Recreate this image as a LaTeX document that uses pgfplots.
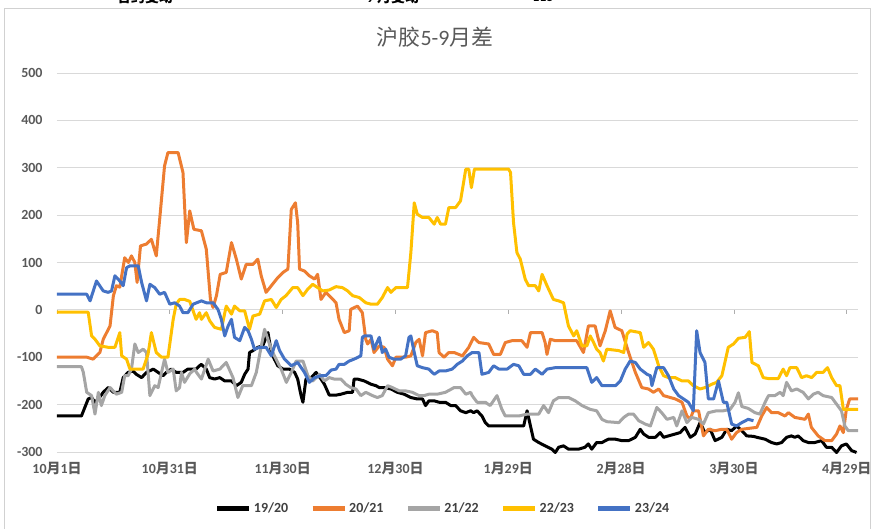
\documentclass[border=0pt]{standalone}
\usepackage{pgfplots}
\pgfplotsset{compat=1.18}
\usepackage{fontspec}
\setmainfont{Carlito}
\newfontfamily\cjk{Noto Sans CJK SC}
\definecolor{sBlack}{HTML}{000000}
\definecolor{sOrange}{HTML}{ED7D31}
\definecolor{sGray}{HTML}{A5A5A5}
\definecolor{sYellow}{HTML}{FFC000}
\definecolor{sBlue}{HTML}{4472C4}
\definecolor{tickgray}{HTML}{595959}
\definecolor{leggray}{HTML}{404040}
\definecolor{gridgray}{HTML}{D9D9D9}
\newcommand\md[2]{#1{\cjk 月}#2{\cjk 日}}
\begin{document}
\begin{tikzpicture}
\useasboundingbox (-57bp,-77bp) rectangle (816bp,452bp);
\draw[black!18, line width=0.8bp] (-53bp,-90bp) -- (-53bp,444bp) -- (813bp,444bp) -- (813bp,-90bp);
\begin{scope}
\clip (-57bp,430bp) rectangle (816bp,452bp);
\node[font=\bfseries\fontsize{14}{16}\selectfont] at (88bp,455bp) {\cjk 合约变动};
\node[font=\bfseries\fontsize{14}{16}\selectfont] at (336bp,455bp) {9 {\cjk 月变动}};
\node[font=\bfseries\fontsize{14}{16}\selectfont] at (486bp,455bp) {115};
\end{scope}
\node[text=tickgray, font=\fontsize{22}{26}\selectfont] at (378bp,415bp) {{\cjk 沪胶}5-9{\cjk 月差}};
\begin{axis}[
  at={(0bp,0bp)}, anchor=south west,
  scale only axis, width=801bp, height=379bp,
  xmin=0, xmax=213, ymin=-300, ymax=500,
  axis line style={draw=none},
  major tick length=0pt,
  ytick={-300,-200,-100,0,100,200,300,400,500},
  yticklabels={-300,-200,-100,0,100,200,300,400,500},
  xtick={0,30,60,90,120,150,180,210},
  xticklabels={\md{10}{1},\md{10}{31},\md{11}{30},\md{12}{30},\md{1}{29},\md{2}{28},\md{3}{30},\md{4}{29}},
  ymajorgrids, grid style={gridgray, line width=0.9bp},
  yticklabel style={font=\bfseries\fontsize{14}{16}\selectfont, text=tickgray, xshift=-11bp},
  xticklabel style={font=\bfseries\fontsize{14}{16}\selectfont, text=tickgray, yshift=-7bp},
  clip=false,
  legend columns=5,
  legend style={at={(rel axis cs:0.482,-0.148)}, anchor=center, draw=none, fill=none,
    font=\bfseries\fontsize{14}{16}\selectfont, text=leggray,
    /tikz/every even column/.append style={column sep=20bp}},
  legend image code/.code={\draw[#1, line width=5bp] (0bp,0bp) -- (32bp,0bp);},
  every axis plot/.append style={line width=3bp, line join=round, no markers},
]
\draw[gridgray, line width=0.9bp] (axis cs:0,0) -- (axis cs:213,0);
\pgfplotsinvokeforeach{0,30,60,90,120,150,180,210}{\draw[gridgray!80!black, line width=0.8bp] (axis cs:#1,0) -- ++(0bp,-4bp);}
\addplot[sBlack] coordinates {(0,-224)(6.5,-224)(7.4,-206)(8.3,-188)(9.2,-185)(10.1,-195)(11,-188)(12.3,-174)(13.6,-164)(15,-174)(16.7,-174)(17.6,-143)(18.9,-132)(20.2,-129)(21.1,-136)(22.5,-143)(23.8,-132)(25.6,-125)(26.9,-132)(28.2,-139)(29.1,-132)(30.4,-125)(31.7,-132)(33.5,-132)(34.8,-125)(37,-125)(37.9,-118)(38.4,-115)(39.7,-125)(40.6,-143)(41.9,-146)(43.3,-143)(44.6,-150)(46.4,-150)(47.7,-160)(49,-153)(49.9,-136)(50.8,-125)(51.2,-90)(52.1,-86)(53.4,-79)(54.7,-76)(56.1,-48)(57,-90)(57.8,-104)(58.7,-118)(60.1,-125)(61.8,-125)(63.2,-132)(64,-146)(64.9,-181)(65.4,-195)(66.2,-146)(67.6,-143)(68.9,-132)(70.2,-146)(71.1,-157)(72.4,-180)(74.2,-180)(75.5,-178)(77.3,-174)(78.6,-174)(79,-146)(79.9,-146)(81.7,-150)(83.5,-157)(84.8,-160)(85.7,-164)(87,-164)(88.8,-167)(90.5,-174)(92.3,-178)(94.1,-185)(95.8,-188)(97.2,-188)(98,-202)(98.9,-192)(100.3,-192)(101.6,-195)(103.3,-195)(104.7,-202)(106,-202)(107.3,-213)(108.7,-217)(110,-213)(110.8,-217)(111.7,-213)(113,-224)(113.9,-238)(114.8,-245)(124.1,-245)(125,-213)(125.9,-245)(126.7,-273)(128.1,-280)(129.8,-287)(131.6,-294)(132.5,-301)(133.4,-290)(134.7,-287)(136,-294)(138.7,-294)(140.4,-290)(141.3,-283)(142.2,-294)(143.5,-280)(144.9,-280)(146.6,-273)(148.5,-273)(150.2,-276)(152,-276)(153.8,-269)(155.1,-252)(156,-262)(157.3,-269)(159.1,-269)(160.4,-259)(161.3,-269)(162.6,-266)(164.4,-262)(165.7,-259)(167,-248)(168.4,-269)(169.7,-262)(171,-238)(172.3,-259)(173.7,-252)(175,-276)(176.8,-269)(178.1,-252)(179.4,-255)(180.7,-245)(182.1,-255)(183.4,-266)(185.2,-267)(186.1,-269)(188.3,-273)(190,-280)(191.4,-283)(192.7,-280)(194,-269)(195.3,-266)(196.2,-269)(197.1,-266)(198.4,-276)(199.8,-280)(201.5,-280)(203.3,-276)(204.6,-290)(206,-290)(207.3,-301)(208.6,-287)(209.9,-283)(211.3,-297)(212.6,-301)};
\addlegendentry{19/20}
\addplot[sOrange] coordinates {(0,-100)(8,-100)(9.6,-104)(11.4,-90)(12.3,-62)(14.1,-34)(15,30)(15.8,51)(16.7,48)(18,110)(19,100)(19.8,114)(20.7,100)(21.3,58)(22.2,135)(23.8,139)(25.1,149)(26.4,114)(27.3,191)(28.6,304)(29.5,332)(32.2,332)(33.5,290)(34.4,142)(35.3,209)(36.4,170)(38.4,167)(39.7,128)(40.8,22)(41.5,5)(42.4,30)(43.4,75)(45,79)(46.4,142)(47.7,107)(49,65)(50.3,96)(52.1,96)(53.4,107)(54.3,72)(55.6,37)(57,51)(58.7,68)(60.1,79)(61.4,86)(62.3,212)(63.4,226)(64,184)(64.5,86)(65.8,82)(67.1,72)(68.5,65)(69.3,75)(70.2,22)(71.5,37)(72.9,26)(74.2,15)(75,-20)(76.4,-48)(77.7,-44)(78.1,1)(79.9,8)(81.2,-6)(82.1,-62)(82.6,-72)(83.5,-62)(84.3,-90)(85.7,-76)(87,-79)(87.9,-104)(89.2,-118)(90.1,-100)(92.7,-100)(94.1,-97)(95.4,-69)(96.3,-62)(97.2,-97)(98,-48)(99.8,-44)(101.1,-48)(101.6,-90)(102.9,-100)(104.2,-90)(105.6,-90)(107.8,-97)(109.5,-79)(110.8,-58)(112.2,-69)(114.8,-72)(116.1,-94)(117.9,-94)(119.2,-69)(121,-65)(123.6,-65)(125,-79)(125.9,-48)(129,-48)(129.8,-69)(130.3,-94)(131.2,-62)(132.5,-65)(138.2,-65)(140,-90)(141.3,-34)(143.1,-34)(144.4,-76)(145.8,-44)(147.1,-2)(148.4,-37)(150.2,-44)(152,-90)(153.8,-132)(155.5,-164)(157.3,-167)(158.6,-174)(160,-167)(161.3,-181)(163.1,-185)(164.4,-188)(166.2,-195)(167.5,-224)(168.4,-231)(169.2,-213)(170.6,-213)(171.9,-266)(173.2,-252)(175,-255)(176.8,-252)(178.1,-252)(179.4,-273)(180.7,-259)(182.1,-252)(186.1,-248)(187.4,-224)(188.7,-206)(190,-217)(191.8,-217)(193.6,-224)(194.5,-217)(196.2,-227)(198.9,-231)(199.8,-220)(200.6,-248)(202.4,-266)(204.2,-276)(206,-276)(207.3,-262)(208.2,-245)(209.1,-259)(209.9,-210)(210.8,-188)(213,-188)};
\addlegendentry{20/21}
\addplot[sGray] coordinates {(0,-120)(6.5,-120)(7,-132)(7.9,-174)(9.2,-181)(10.1,-220)(11,-174)(11.8,-202)(12.7,-181)(14.1,-164)(15.8,-178)(17.2,-174)(18,-139)(18.9,-139)(19.8,-125)(20.7,-72)(21.6,-90)(22.9,-83)(23.8,-90)(24.7,-181)(26,-160)(26.9,-164)(27.8,-132)(28.6,-104)(29.5,-132)(30.9,-125)(31.7,-171)(32.6,-164)(33.1,-132)(33.9,-153)(35.3,-135)(36.6,-125)(37.1,-132)(38.4,-146)(40.2,-104)(41.5,-129)(43.3,-125)(45,-111)(46.8,-143)(48.1,-185)(49.4,-160)(51.7,-160)(53,-132)(53.9,-94)(55.2,-41)(56.5,-72)(57.8,-97)(59.6,-125)(61,-153)(62.3,-132)(63.6,-108)(65.4,-108)(66.7,-139)(68,-150)(69.8,-136)(71.1,-150)(72.4,-143)(73.7,-146)(75.5,-146)(76.8,-157)(78.1,-164)(79.5,-167)(80.8,-181)(82.1,-174)(83.9,-181)(85.2,-185)(86.5,-181)(87.9,-160)(89.2,-164)(91,-171)(92.7,-171)(94.5,-174)(96.3,-181)(97.6,-181)(98.9,-178)(101.1,-178)(103.3,-174)(105.6,-164)(107.3,-164)(108.7,-178)(110,-174)(110.4,-181)(111.7,-195)(113.9,-195)(115.2,-202)(117,-181)(118.3,-210)(119.2,-224)(122.8,-224)(125,-220)(128.1,-220)(129.4,-202)(130.7,-217)(132,-192)(133.4,-185)(136,-185)(137.8,-192)(139.6,-202)(141.8,-210)(143.5,-213)(144.9,-231)(146.2,-236)(149.4,-238)(150.7,-227)(152,-220)(153.3,-220)(154.7,-234)(156.4,-241)(157.8,-245)(159.5,-206)(160.8,-217)(162.2,-231)(164,-227)(164.8,-245)(166.2,-213)(167.5,-238)(168.8,-227)(170.6,-231)(171.9,-241)(173.2,-217)(175.4,-213)(177.2,-213)(179,-210)(180.3,-195)(181.2,-175)(182.1,-204)(183.8,-208)(185.6,-217)(186.9,-220)(188.3,-195)(189.2,-181)(190.9,-181)(192.3,-174)(193.1,-181)(194,-153)(195.3,-171)(196.7,-167)(198.4,-174)(199.8,-188)(201.1,-178)(202.4,-174)(203.7,-181)(206,-185)(207.3,-199)(208.6,-213)(209.5,-245)(210.4,-255)(213,-255)};
\addlegendentry{21/22}
\addplot[sYellow] coordinates {(0,-5)(8.3,-5)(9.2,-55)(10.1,-62)(11.4,-76)(13.6,-79)(15.4,-79)(16.7,-48)(17.2,-97)(18.5,-104)(19.4,-125)(22.9,-125)(24.2,-94)(25.1,-48)(26.4,-90)(27.8,-100)(29.5,-100)(30.9,-20)(31.7,12)(32.6,22)(33.9,22)(35.3,18)(37,-20)(37.9,-6)(38.4,-20)(39.7,-6)(40.6,-23)(41.9,-37)(43.7,-41)(45,8)(46.4,-9)(47.2,8)(48.6,-2)(49.9,-2)(51.2,-41)(52.1,-13)(53.9,-9)(55.2,19)(57,22)(58.3,5)(59.6,22)(60.9,30)(62.7,47)(64,47)(65.4,30)(66.7,44)(68,54)(69.3,47)(70.7,40)(72.4,42)(74.2,49)(75.9,47)(77.3,40)(78.6,30)(80.4,26)(82.1,15)(83.5,12)(85.2,12)(86.5,26)(87.9,47)(88.8,37)(90.1,47)(93.2,47)(94.1,121)(95,226)(95.8,202)(97.2,195)(98.9,195)(100.3,181)(101.1,195)(102,181)(103.3,181)(104.2,216)(106,216)(107.3,230)(108.7,297)(109.5,297)(110.2,258)(111,297)(120.1,297)(120.6,290)(121.4,184)(122.3,121)(123.2,107)(124.5,65)(125.4,51)(127.2,51)(128.1,40)(129,75)(130.3,51)(132,22)(133.4,19)(134.7,15)(136,-34)(137.4,-55)(138.2,-44)(139.6,-76)(140.9,-76)(141.8,-55)(142.7,-69)(143.5,-83)(144.4,-90)(145.3,-108)(146.2,-83)(149.4,-86)(150.7,-90)(151.6,-51)(152.4,-44)(155.1,-48)(156,-79)(157.3,-69)(158.6,-83)(160,-118)(161.3,-139)(162.6,-143)(164.4,-143)(166.2,-150)(167.9,-150)(169.2,-160)(171,-167)(172.3,-164)(174.1,-157)(175.4,-153)(176.8,-139)(177.6,-111)(178.5,-79)(179.9,-72)(181.2,-60)(183,-58)(184.1,-46)(184.8,-111)(186.5,-118)(187.8,-143)(189.2,-145)(191.8,-145)(193.1,-125)(194,-139)(194.9,-122)(196.7,-122)(198,-143)(199.3,-139)(200.7,-143)(202,-132)(203.7,-132)(204.9,-122)(206,-143)(207.3,-160)(208.2,-160)(209.1,-210)(213,-210)};
\addlegendentry{22/23}
\addplot[sBlue] coordinates {(0,33)(7.9,33)(8.8,19)(10.5,61)(12.3,40)(13.6,37)(14.5,40)(15.4,72)(16.7,61)(17.6,51)(18.5,89)(19.4,93)(21.6,93)(22.5,58)(23.8,19)(24.7,54)(26,47)(27.3,33)(28.6,37)(30,12)(31.3,15)(32.6,8)(33.5,-6)(34.8,-6)(36.2,12)(38.4,19)(39.7,15)(41.5,15)(42.8,1)(43.7,-20)(44.6,-55)(45.5,-34)(46.4,-20)(47.2,-58)(48.6,-65)(49.9,-37)(50.8,-44)(51.7,-62)(52.5,-83)(53.9,-79)(55.6,-79)(57,-97)(58.3,-65)(59.2,-86)(60.5,-104)(62.3,-118)(64,-111)(65.8,-132)(67.1,-153)(68.5,-143)(70.2,-139)(71.5,-139)(72.9,-127)(74.2,-125)(75,-115)(76.4,-115)(77.7,-108)(79,-104)(80.8,-97)(81.2,-58)(81.7,-55)(83.5,-55)(84.3,-83)(85.7,-58)(86.5,-90)(87.4,-83)(88.3,-100)(89.6,-104)(91.4,-104)(92.7,-97)(93.6,-58)(94.1,-55)(95,-90)(95.8,-118)(97.2,-122)(98.9,-125)(100.3,-136)(101.6,-129)(103.3,-129)(105.1,-125)(106.4,-115)(107.8,-108)(109.1,-97)(110.4,-90)(112.2,-90)(113,-136)(114.8,-132)(116.1,-118)(117.5,-125)(119.7,-125)(121.4,-115)(122.8,-118)(124.1,-136)(125.9,-136)(127.2,-125)(129,-136)(130.3,-125)(132.5,-122)(140.9,-122)(142.2,-153)(143.5,-143)(144.9,-160)(146.6,-160)(148.5,-160)(149.8,-150)(151.1,-125)(152.4,-108)(153.8,-111)(155.1,-125)(156.9,-136)(157.8,-139)(158.2,-160)(159.5,-122)(161.3,-122)(162.6,-139)(164,-167)(165.3,-181)(166.6,-188)(167.9,-195)(169.2,-213)(170.1,-44)(171,-90)(172.3,-111)(173.2,-188)(174.6,-188)(175.9,-150)(177.2,-195)(178.1,-195)(179.4,-241)(180.7,-245)(182.1,-238)(183.8,-231)(185.2,-234)};
\addlegendentry{23/24}
\end{axis}
\end{tikzpicture}
\end{document}
